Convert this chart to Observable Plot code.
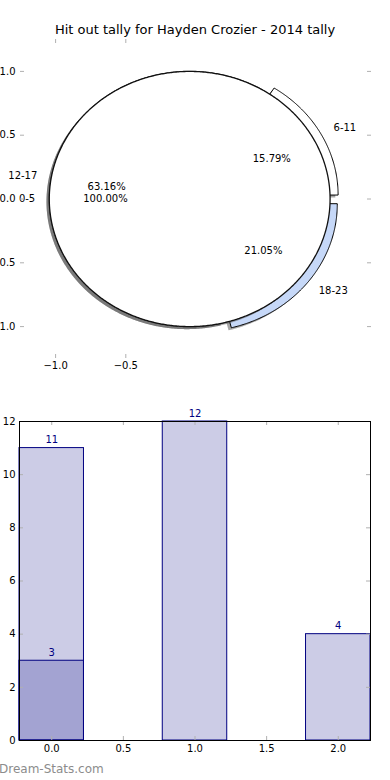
<!DOCTYPE html>
<html><head><meta charset="utf-8">
<script src="https://cdn.jsdelivr.net/npm/d3@7"></script>
<script src="https://cdn.jsdelivr.net/npm/@observablehq/plot@0.6"></script>
<style>
body{margin:0;background:#fff;}
#wrap{position:relative;width:390px;height:780px;overflow:hidden;font-family:"DejaVu Sans",sans-serif;}
#title{position:absolute;top:22px;left:0;width:390px;text-align:center;font-size:13px;line-height:15px;color:#000;}
#pie{position:absolute;left:0;top:0;}
#bars{position:absolute;left:0;top:390px;}
#wm{position:absolute;left:-1px;top:762px;font-size:12px;line-height:14px;color:#8c8c8c;}
svg{overflow:visible}
</style></head><body>
<div id="wrap"><div id="pie"></div><div id="bars"></div><div id="title">Hit out tally for Hayden Crozier - 2014 tally</div><div id="wm">Dream-Stats.com</div></div>
<script>
// ---- data ----
const outerLabels = ["0-5"];
const outerCounts = [11];
const outerColors = ["#ffffff"];
const innerLabels = ["6-11", "12-17", "18-23"];
const innerCounts = [3, 12, 4];
const innerColors = ["#ffffff", "#ffffff", "#c6d8f8"];
const innerExplode = [0.065, 0, 0.065];
const barXA = [0, 1, 2];
const barValuesA = [11, 12, 4];
const barXB = [0];
const barValuesB = [3];
const pieXTicks = [-1, -0.5];
const pieYTicks = [-1, -0.5, 0, 0.5, 1];
const barXTicks = [0, 0.5, 1, 1.5, 2];
const barYTicks = [0, 2, 4, 6, 8, 10, 12];

// ---- pie geometry ----
const CX = -0.045, CY = 0, R = 1;
function buildPie(labels, counts, colors, explode, id) {
  const total = d3.sum(counts);
  let a = 0;
  const pts = [], lab = [], pct = [];
  counts.forEach((c, i) => {
    const span = c / total * 360;
    const a0 = a; a += span;
    const mid = (a0 + span / 2) * Math.PI / 180;
    const e = explode ? explode[i] : 0;
    const cx = CX + e * Math.cos(mid), cy = CY + e * Math.sin(mid);
    const full = span >= 359.999;
    if (!full) pts.push({x: cx, y: cy, id: id + i, fill: colors[i]});
    const n = Math.max(4, Math.ceil(span * 2));
    for (let k = 0; k <= (full ? n - 1 : n); k++) {
      const t = (a0 + span * k / n) * Math.PI / 180;
      pts.push({x: cx + R * Math.cos(t), y: cy + R * Math.sin(t), id: id + i, fill: colors[i]});
    }
    const lx = cx + 1.1 * R * Math.cos(mid), ly = cy + 1.1 * R * Math.sin(mid);
    lab.push({x: lx, y: ly, text: labels[i], side: lx > 0 ? "start" : "end"});
    pct.push({x: cx + 0.6 * R * Math.cos(mid), y: cy + 0.6 * R * Math.sin(mid), text: (c / total * 100).toFixed(2) + "%"});
  });
  return {pts, lab, pct};
}
const inner = buildPie(innerLabels, innerCounts, innerColors, innerExplode, "in");
const outer = buildPie(outerLabels, outerCounts, outerColors, null, "out");
const shadow = arr => arr.map(p => ({...p, x: p.x - 0.02, y: p.y - 0.02}));

const pieW = 390, pieH = 380, pm = {l: 20, r: 19, t: 39, b: 22};
const pfw = pieW - pm.l - pm.r, pfh = pieH - pm.t - pm.b;
const tickC = "#b0b0b0";
const fmt1 = d3.format(".1f");

const pie = Plot.plot({
  width: pieW, height: pieH,
  marginLeft: pm.l, marginRight: pm.r, marginTop: pm.t, marginBottom: pm.b,
  x: {domain: [-1.25, 1.25]},
  y: {domain: [-1.25, 1.25]},
  color: {type: "identity"},
  style: {fontFamily: "DejaVu Sans", fontSize: "10px", background: "transparent", overflow: "visible"},
  marks: [
    Plot.line(shadow(inner.pts), {x: "x", y: "y", z: "id", fill: "#4d4d4d", fillOpacity: 0.5, stroke: "none", curve: "linear-closed"}),
    Plot.line(inner.pts, {x: "x", y: "y", z: "id", fill: "fill", stroke: "black", strokeWidth: 1, curve: "linear-closed"}),
    Plot.line(shadow(outer.pts), {x: "x", y: "y", z: "id", fill: "#4d4d4d", fillOpacity: 0.5, stroke: "none", curve: "linear-closed"}),
    Plot.line(outer.pts, {x: "x", y: "y", z: "id", fill: "fill", stroke: "#111", strokeWidth: 1.3, curve: "linear-closed"}),
    Plot.text([...inner.lab, ...outer.lab].filter(d => d.side === "start"), {x: "x", y: "y", text: "text", textAnchor: "start", fill: "black", fontSize: 10}),
    Plot.text([...inner.lab, ...outer.lab].filter(d => d.side === "end"), {x: "x", y: "y", text: "text", textAnchor: "end", fill: "black", fontSize: 10}),
    Plot.text([...inner.pct, ...outer.pct], {x: "x", y: "y", text: "text", textAnchor: "middle", fill: "black", fontSize: 10}),
    Plot.ruleY(pieYTicks, {y: d => d, stroke: tickC, insetRight: pfw - 4}),
    Plot.ruleY(pieYTicks, {y: d => d, stroke: tickC, insetLeft: pfw - 4}),
    Plot.ruleX(pieXTicks, {x: d => d, stroke: tickC, insetBottom: pfh - 4}),
    Plot.ruleX(pieXTicks, {x: d => d, stroke: tickC, insetTop: pfh - 4}),
    Plot.axisY({ticks: pieYTicks, anchor: "left", tickSize: 0, tickPadding: 5, tickFormat: fmt1, label: null, fontSize: 10}),
    Plot.axisX({ticks: pieXTicks, anchor: "bottom", tickSize: 0, tickPadding: 3, tickFormat: fmt1, label: null, fontSize: 10})
  ]
});
document.getElementById("pie").appendChild(pie);

// ---- bars ----
const barW = 390, barH = 390, bm = {l: 19, r: 20, t: 31, b: 40};
const bfw = barW - bm.l - bm.r, bfh = barH - bm.t - bm.b;
const halfW = 0.225;
const seriesA = barXA.map((x, i) => ({x, v: barValuesA[i]}));
const seriesB = barXB.map((x, i) => ({x, v: barValuesB[i]}));
const navy = "#000080";

const bars = Plot.plot({
  width: barW, height: barH,
  marginLeft: bm.l, marginRight: bm.r, marginTop: bm.t, marginBottom: bm.b,
  x: {domain: [-0.225, 2.225]},
  y: {domain: [0, 12]},
  style: {fontFamily: "DejaVu Sans", fontSize: "10px", background: "transparent", overflow: "visible"},
  marks: [
    Plot.rectY(seriesA, {x1: d => d.x - halfW, x2: d => d.x + halfW, y1: 0, y2: "v", fill: navy, fillOpacity: 0.2, stroke: navy, strokeWidth: 1}),
    Plot.rectY(seriesB, {x1: d => d.x - halfW, x2: d => d.x + halfW, y1: 0, y2: "v", fill: navy, fillOpacity: 0.2, stroke: navy, strokeWidth: 1}),
    Plot.text([...seriesA, ...seriesB], {x: "x", y: "v", text: d => String(d.v), dy: -8, fill: navy, fontSize: 10, textAnchor: "middle"}),
    Plot.ruleY(barYTicks, {y: d => d, stroke: tickC, insetRight: bfw - 4}),
    Plot.ruleY(barYTicks, {y: d => d, stroke: tickC, insetLeft: bfw - 4}),
    Plot.ruleX(barXTicks, {x: d => d, stroke: tickC, insetBottom: bfh - 4}),
    Plot.ruleX(barXTicks, {x: d => d, stroke: tickC, insetTop: bfh - 4}),
    Plot.frame({stroke: "black", strokeWidth: 1}),
    Plot.axisY({ticks: barYTicks, anchor: "left", tickSize: 0, tickPadding: 4, tickFormat: d3.format("d"), label: null, fontSize: 10}),
    Plot.axisX({ticks: barXTicks, anchor: "bottom", tickSize: 0, tickPadding: 4, tickFormat: fmt1, label: null, fontSize: 10})
  ]
});
document.getElementById("bars").appendChild(bars);
</script>
</body></html>
